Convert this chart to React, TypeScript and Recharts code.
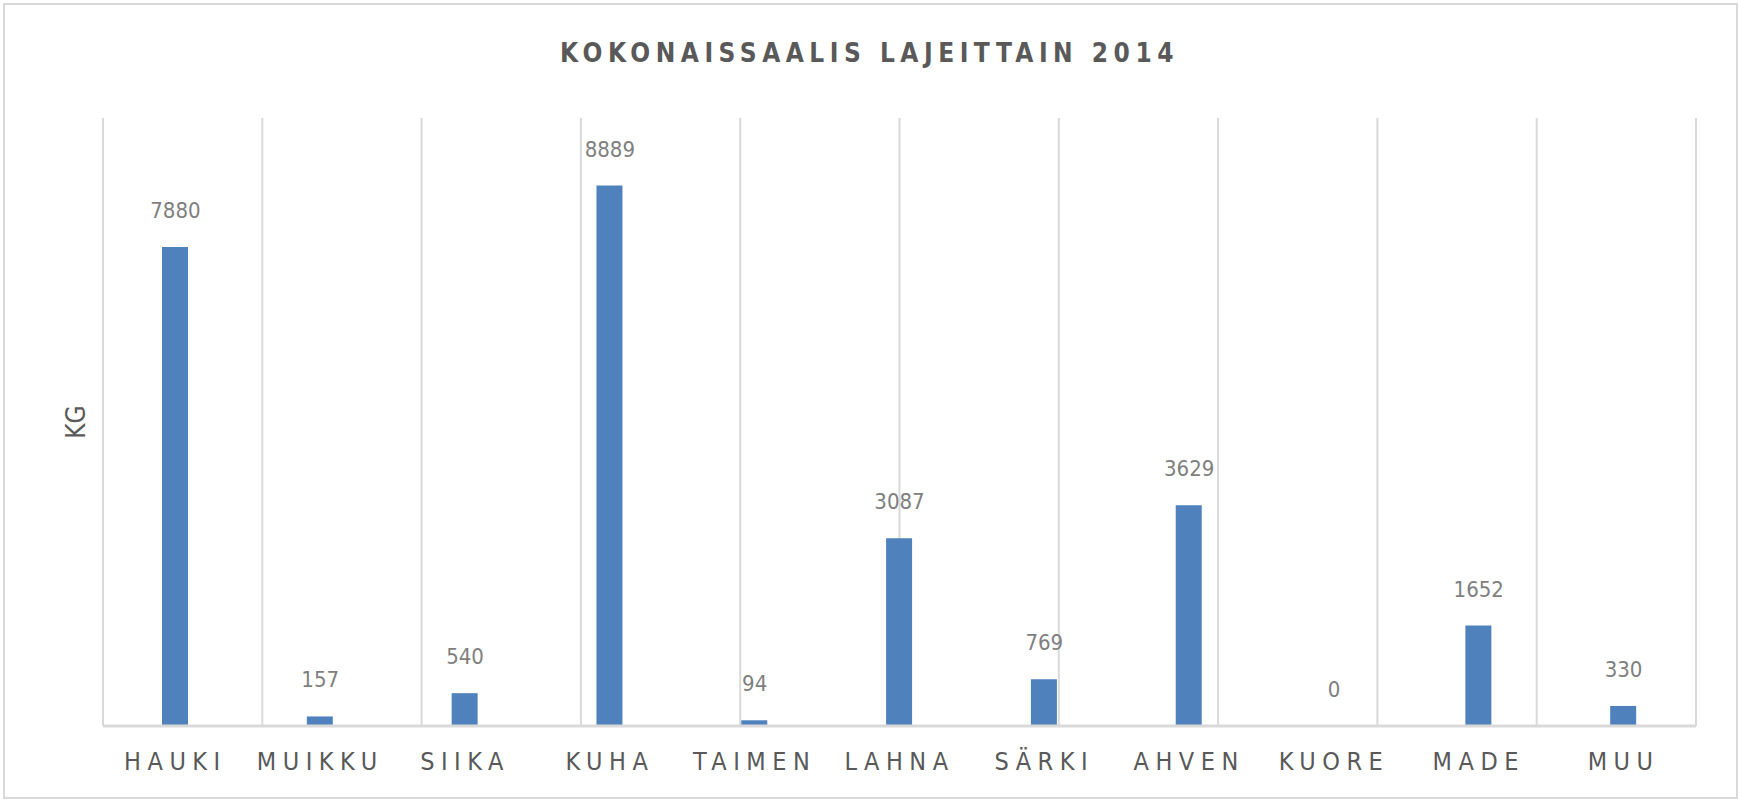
import React from "react";
import { ComposedChart, Bar, Line, XAxis, YAxis, CartesianGrid, LabelList } from "recharts";

const species = [
  "HAUKI",
  "MUIKKU",
  "SIIKA",
  "KUHA",
  "TAIMEN",
  "LAHNA",
  "SÄRKI",
  "AHVEN",
  "KUORE",
  "MADE",
  "MUU",
];

const catchKg = [7880, 157, 540, 8889, 94, 3087, 769, 3629, 0, 1652, 330];

const gridTicks = [0, 1, 2, 3, 4, 5, 6, 7, 8, 9, 10, 11];

const FONT = "'Liberation Sans Narrow', 'DejaVu Sans Condensed', 'Liberation Sans', sans-serif";

const App: React.FC = () => {
  const data = species.map((name, i) => ({ name, value: catchKg[i] }));
  return (
    <div
      style={{
        position: "absolute",
        left: 0,
        top: 0,
        width: 1739,
        height: 799,
        background: "#fff",
        fontFamily: FONT,
      }}
    >
      <div
        style={{
          position: "absolute",
          left: 3,
          top: 3,
          width: 1731,
          height: 792,
          border: "2px solid #d9d9d9",
        }}
      />
      <div
        style={{
          position: "absolute",
          left: 0,
          top: 38,
          width: 1739,
          textAlign: "center",
          fontSize: 26,
          fontWeight: "bold",
          letterSpacing: 5.5,
          color: "#595959",
          fontFamily: FONT,
        }}
      >
        KOKONAISSAALIS LAJEITTAIN 2014
      </div>
      <div style={{ position: "absolute", left: 0, top: 0 }}>
        <ComposedChart
          width={1739}
          height={799}
          data={data}
          margin={{ top: 118, right: 43, bottom: 13, left: 40 }}
        >
          <XAxis xAxisId="grid" type="number" domain={[0, 11]} ticks={gridTicks} hide />
          <CartesianGrid xAxisId="grid" vertical horizontal={false} stroke="#d9d9d9" strokeWidth={2} />
          <XAxis
            xAxisId="cat"
            dataKey="name"
            height={60}
            tickLine={false}
            tickSize={0}
            tickMargin={26}
            axisLine={{ stroke: "#d9d9d9", strokeWidth: 3 }}
            interval={0}
            tick={{ fill: "#595959", fontSize: 25, letterSpacing: 6.5, fontFamily: FONT }}
          />
          <YAxis
            domain={[0, 10000]}
            width={63}
            tick={false}
            tickLine={false}
            axisLine={false}
            label={{
              value: "KG",
              angle: -90,
              position: "center",
              dx: 4,
              fill: "#595959",
              fontSize: 26,
              fontFamily: FONT,
            }}
          />
          <Bar xAxisId="cat" dataKey="value" fill="#4f81bd" barSize={26} isAnimationActive={false} />
          <Line
            xAxisId="cat"
            dataKey="value"
            stroke="none"
            dot={false}
            activeDot={false}
            legendType="none"
            isAnimationActive={false}
          >
            <LabelList
              dataKey="value"
              position="top"
              offset={29}
              fill="#7f7f7f"
              fontSize={22}
              fontFamily={FONT}
            />
          </Line>
        </ComposedChart>
      </div>
    </div>
  );
};

export default App;
